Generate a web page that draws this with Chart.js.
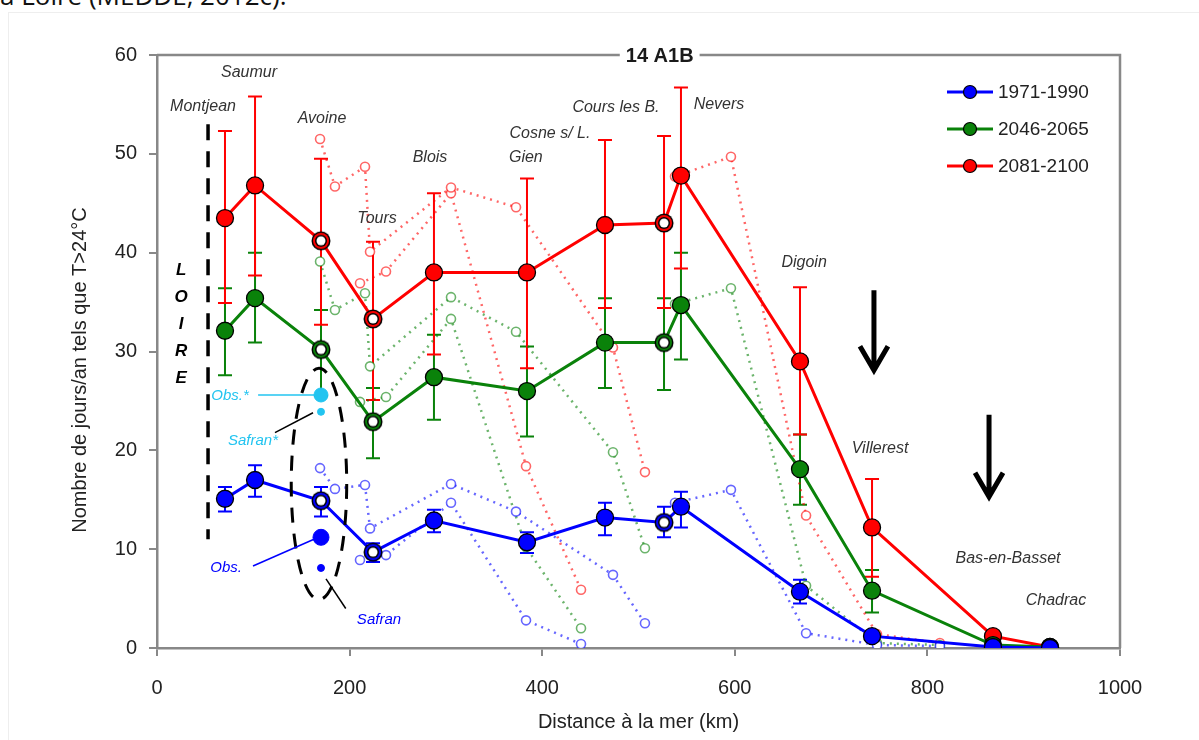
<!DOCTYPE html>
<html>
<head>
<meta charset="utf-8">
<script src="https://cdn.jsdelivr.net/npm/chart.js@4.4.1/dist/chart.umd.min.js"></script>
<style>
  body { margin: 0; background: #fff; }
  #wrap { position: relative; width: 1199px; height: 740px; overflow: hidden; }
  #cut { position: absolute; left: 0px; top: -18px; font: 26px 'Open Sans', sans-serif; color: #111; line-height: 26px; }
  #frame { position: absolute; left: 8px; top: 12px; width: 1190px; height: 730px; border-left: 1px solid #eee; border-top: 1px solid #eee; }
  canvas { position: absolute; left: 0; top: 0; }
</style>
</head>
<body>
<div id="wrap">
  <div id="cut">a Loire (MEDDE, 2012c).</div>
  <div id="frame"></div>
  <canvas id="c" width="1199" height="740"></canvas>
</div>
<script>
// stations le long de la Loire (km depuis la mer)
const stationKm = [70.6, 101.8, 170.3, 224.3, 287.6, 384.2, 465.2, 526.5, 544.1, 667.7, 742.5, 868.1, 927.3];
const openMarker = [false, false, true, true, false, false, false, true, false, false, false, false, false];

const blue = [15.1, 17.0, 14.9, 9.7, 12.9, 10.7, 13.2, 12.7, 14.3, 5.7, 1.2, 0.1, 0.0];
const blueLow = [13.8, 15.3, 13.3, 8.7, 11.7, 9.6, 11.4, 11.2, 12.2, 4.5, 0.7, 0.0, 0.0];
const blueHigh = [16.3, 18.5, 16.3, 10.6, 14.0, 11.7, 14.7, 14.3, 15.8, 6.9, 1.6, 0.2, 0.0];

const green = [32.1, 35.4, 30.2, 22.9, 27.4, 26.0, 30.9, 30.9, 34.7, 18.1, 5.8, 0.3, 0.1];
const greenLow = [27.6, 30.9, 25.5, 19.2, 23.1, 21.4, 26.3, 26.1, 29.2, 14.5, 3.6, 0.1, 0.0];
const greenHigh = [36.4, 40.0, 34.2, 26.3, 31.7, 30.5, 35.4, 35.4, 40.0, 21.6, 7.9, 0.5, 0.2];

const red = [43.5, 46.8, 41.2, 33.3, 38.0, 38.0, 42.8, 43.0, 47.8, 29.0, 12.2, 1.2, 0.1];
const redLow = [34.9, 37.7, 32.7, 25.1, 29.7, 28.3, 34.4, 34.4, 38.4, 21.6, 7.2, 0.8, 0.0];
const redHigh = [52.3, 55.8, 49.5, 41.1, 46.0, 47.5, 51.4, 51.8, 56.7, 36.5, 17.1, 1.6, 0.2];

// affluents / points secondaires (pointillés)
const subKmA = [169.3, 184.8, 216.0, 221.2, 305.3, 372.8, 473.5, 506.7];
const subKmB = [210.8, 237.8, 305.3, 383.2, 440.3];
const subKmC = [537.9, 596.0, 674.0, 747.7, 813.0];
const blueSubA = [18.2, 16.1, 16.5, 12.1, 16.6, 13.8, 7.4, 2.5];
const blueSubB = [8.9, 9.4, 14.7, 2.8, 0.4];
const blueSubC = [14.7, 16.0, 1.5, 0.3, 0.2];
const greenSubA = [39.1, 34.2, 35.9, 28.5, 35.5, 32.0, 19.8, 10.1];
const greenSubB = [24.9, 25.4, 33.3, 10.2, 2.0];
const greenSubC = [34.8, 36.4, 6.3, 0.5, 0.3];
const redSubA = [51.5, 46.7, 48.7, 40.1, 46.6, 44.6, 30.4, 17.8];
const redSubB = [36.9, 38.1, 46.0, 18.4, 5.9];
const redSubC = [47.7, 49.7, 13.4, 1.4, 0.5];

// Obs / Safran à Avoine
const obsKm = 170.3;
const obsStar = 25.6, safranStar = 23.9, obsVal = 11.2, safranVal = 8.1;

const periods = ['1971-1990', '2046-2065', '2081-2100'];
const stationNames = ['Montjean', 'Saumur', 'Avoine', 'Tours', 'Blois', 'Gien', 'Cosne s/ L.', 'Cours les B.', 'Nevers', 'Digoin', 'Villerest', 'Bas-en-Basset', 'Chadrac'];
const labelKm = [47.8, 95.5, 171.3, 228.5, 283.5, 383.0, 408.0, 476.6, 583.6, 672.0, 750.8, 883.7, 933.5];
const labelY = [54.8, 58.2, 53.6, 43.5, 49.6, 49.6, 52.1, 54.7, 55.0, 39.0, 20.2, 9.1, 4.8];

const BLUE = '#0000ff', GREEN = '#0a820a', RED = '#ff0000', CYAN = '#22c4f0';
const FONT = "'Liberation Sans', Arial, sans-serif";

// marqueur "ouvert" : anneau noir, anneau couleur, centre blanc
function ringMarker(color) {
  const c = document.createElement('canvas');
  c.width = 22; c.height = 22;
  const g = c.getContext('2d');
  [[9.5, '#000'], [8, color], [6, '#000'], [4.5, '#fff']].forEach(([r, f]) => {
    g.fillStyle = f;
    g.beginPath(); g.arc(11, 11, r, 0, Math.PI * 2); g.fill();
  });
  return c;
}

function mainSet(label, values, color) {
  const ring = ringMarker(color);
  return {
    label,
    data: stationKm.map((x, i) => ({ x, y: values[i] })),
    borderColor: color,
    borderWidth: 3,
    pointRadius: 8.5,
    pointHoverRadius: 8.5,
    pointStyle: openMarker.map((o) => (o ? ring : 'circle')),
    pointBackgroundColor: color,
    pointBorderColor: '#000',
    pointBorderWidth: 1.3,
    order: 1,
  };
}

function subSet(kms, values, color) {
  return {
    data: kms.map((x, i) => ({ x, y: values[i] })),
    borderColor: color,
    borderDash: [2, 5],
    borderWidth: 2.5,
    pointRadius: 4.5,
    pointBackgroundColor: '#fff',
    pointBorderColor: color,
    pointBorderWidth: 1.6,
    order: 3,
  };
}

function dotSet(y, color, r) {
  return {
    data: [{ x: obsKm, y }],
    showLine: false,
    pointRadius: r,
    pointBackgroundColor: color,
    pointBorderColor: color,
    order: 0,
  };
}

const fadeB = 'rgba(0,0,255,0.6)', fadeG = 'rgba(10,130,10,0.6)', fadeR = 'rgba(255,0,0,0.6)';

const errors = [
  { low: blueLow, high: blueHigh, color: BLUE },
  { low: greenLow, high: greenHigh, color: GREEN },
  { low: redLow, high: redHigh, color: RED },
];

const overlay = {
  id: 'overlay',
  beforeDatasetsDraw(chart) {
    const { ctx, scales: { x, y } } = chart;
    ctx.save();
    ctx.lineWidth = 2;
    errors.forEach((e) => {
      ctx.strokeStyle = e.color;
      stationKm.forEach((km, i) => {
        if (e.high[i] - e.low[i] < 0.3) return;
        const px = x.getPixelForValue(km);
        const y1 = y.getPixelForValue(e.low[i]);
        const y2 = y.getPixelForValue(e.high[i]);
        ctx.beginPath();
        ctx.moveTo(px, y1); ctx.lineTo(px, y2);
        ctx.moveTo(px - 7, y1); ctx.lineTo(px + 7, y1);
        ctx.moveTo(px - 7, y2); ctx.lineTo(px + 7, y2);
        ctx.stroke();
      });
    });
    ctx.restore();
  },
  afterDatasetsDraw(chart) {
    const { ctx, chartArea: a, scales: { x, y } } = chart;
    const X = (v) => x.getPixelForValue(v);
    const Y = (v) => y.getPixelForValue(v);
    ctx.save();

    // cadre haut / droite
    ctx.strokeStyle = '#888';
    ctx.lineWidth = 2.5;
    ctx.beginPath();
    ctx.moveTo(a.left, a.top); ctx.lineTo(a.right, a.top); ctx.lineTo(a.right, a.bottom);
    ctx.stroke();

    // titre
    ctx.font = `bold 20px ${FONT}`;
    ctx.textAlign = 'center';
    ctx.textBaseline = 'middle';
    const tw = ctx.measureText('14 A1B').width;
    const tx = X(522);
    ctx.fillStyle = '#fff';
    ctx.fillRect(tx - tw / 2 - 6, a.top - 12, tw + 12, 24);
    ctx.fillStyle = '#1a1a1a';
    ctx.fillText('14 A1B', tx, a.top + 1);

    // noms des stations
    ctx.font = `italic 16px ${FONT}`;
    ctx.fillStyle = '#333';
    stationNames.forEach((n, i) => ctx.fillText(n, X(labelKm[i]), Y(labelY[i])));

    // ligne pointillée LOIRE
    ctx.strokeStyle = '#000';
    ctx.lineWidth = 3.5;
    ctx.setLineDash([16, 11]);
    ctx.beginPath();
    ctx.moveTo(X(53), Y(53.0)); ctx.lineTo(X(53), Y(11.0));
    ctx.stroke();
    ctx.setLineDash([]);
    ctx.font = `bold italic 17px ${FONT}`;
    ctx.fillStyle = '#000';
    ['L', 'O', 'I', 'R', 'E'].forEach((c, i) => ctx.fillText(c, X(25), Y(38.2 - i * 2.72)));

    // ellipse autour d'Avoine
    ctx.lineWidth = 3;
    ctx.setLineDash([15, 11]);
    ctx.beginPath();
    ctx.ellipse(X(168.2), Y(16.6), X(197) - X(168.2), Y(4.9) - Y(16.6), 0, 0, Math.PI * 2);
    ctx.stroke();
    ctx.setLineDash([]);

    // annotations Obs / Safran
    ctx.font = `italic 15px ${FONT}`;
    ctx.lineWidth = 1.5;
    ctx.fillStyle = CYAN;
    ctx.fillText('Obs.*', X(75.8), Y(25.5));
    ctx.fillText('Safran*', X(99.7), Y(21.0));
    ctx.strokeStyle = CYAN;
    ctx.beginPath(); ctx.moveTo(X(105), Y(25.6)); ctx.lineTo(X(obsKm), Y(obsStar)); ctx.stroke();
    ctx.strokeStyle = '#000';
    ctx.beginPath(); ctx.moveTo(X(122.5), Y(21.8)); ctx.lineTo(X(162), Y(23.8)); ctx.stroke();
    ctx.fillStyle = BLUE;
    ctx.fillText('Obs.', X(71.7), Y(8.1));
    ctx.fillText('Safran', X(230.5), Y(2.8));
    ctx.strokeStyle = BLUE;
    ctx.beginPath(); ctx.moveTo(X(99.7), Y(8.3)); ctx.lineTo(X(163), Y(11.0)); ctx.stroke();
    ctx.strokeStyle = '#000';
    ctx.beginPath(); ctx.moveTo(X(175.5), Y(7.0)); ctx.lineTo(X(196), Y(4.0)); ctx.stroke();

    // flèches
    ctx.strokeStyle = '#000';
    ctx.lineWidth = 5;
    [[744.5, 36.2, 28.1], [864, 23.6, 15.3]].forEach(([km, top, tip]) => {
      const px = X(km), t = Y(tip);
      ctx.beginPath();
      ctx.moveTo(px, Y(top)); ctx.lineTo(px, t - 2);
      ctx.moveTo(px - 14, t - 24); ctx.lineTo(px, t); ctx.lineTo(px + 14, t - 24);
      ctx.stroke();
    });

    // légende
    const colors = [BLUE, GREEN, RED];
    ctx.font = `19px ${FONT}`;
    ctx.textAlign = 'left';
    periods.forEach((p, i) => {
      const ly = 92 + i * 37;
      ctx.strokeStyle = colors[i];
      ctx.lineWidth = 3;
      ctx.beginPath(); ctx.moveTo(947, ly); ctx.lineTo(993, ly); ctx.stroke();
      ctx.fillStyle = colors[i];
      ctx.strokeStyle = '#000';
      ctx.lineWidth = 1.2;
      ctx.beginPath(); ctx.arc(970, ly, 6.5, 0, Math.PI * 2); ctx.fill(); ctx.stroke();
      ctx.fillStyle = '#222';
      ctx.fillText(p, 998, ly + 1);
    });

    // titres des axes
    ctx.textAlign = 'center';
    ctx.font = `20px ${FONT}`;
    ctx.fillStyle = '#222';
    ctx.fillText('Distance à la mer (km)', (a.left + a.right) / 2, 722);
    ctx.translate(80, 370);
    ctx.rotate(-Math.PI / 2);
    ctx.fillText('Nombre de jours/an tels que T>24°C', 0, 0);
    ctx.restore();
  },
};

new Chart(document.getElementById('c'), {
  type: 'line',
  data: {
    datasets: [
      mainSet(periods[0], blue, BLUE),
      mainSet(periods[1], green, GREEN),
      mainSet(periods[2], red, RED),
      subSet(subKmA, blueSubA, fadeB), subSet(subKmB, blueSubB, fadeB), subSet(subKmC, blueSubC, fadeB),
      subSet(subKmA, greenSubA, fadeG), subSet(subKmB, greenSubB, fadeG), subSet(subKmC, greenSubC, fadeG),
      subSet(subKmA, redSubA, fadeR), subSet(subKmB, redSubB, fadeR), subSet(subKmC, redSubC, fadeR),
      dotSet(obsStar, CYAN, 7), dotSet(safranStar, CYAN, 3.5),
      dotSet(obsVal, BLUE, 8), dotSet(safranVal, BLUE, 3.5),
    ],
  },
  options: {
    responsive: false,
    animation: false,
    devicePixelRatio: 1,
    layout: { padding: { top: 55, right: 79, left: 0, bottom: 0 } },
    plugins: { legend: { display: false }, tooltip: { enabled: false } },
    scales: {
      x: {
        type: 'linear', min: 0, max: 1000,
        afterFit: (s) => { s.height = 92; },
        ticks: { stepSize: 200, color: '#222', padding: 20, maxRotation: 0, font: { family: FONT, size: 20 }, callback: (v) => String(v) },
        grid: { drawOnChartArea: false, tickLength: 8, color: '#888', lineWidth: 2 },
        border: { color: '#888', width: 2.5 },
      },
      y: {
        min: 0, max: 60,
        afterFit: (s) => { s.width = 157; },
        ticks: { stepSize: 10, color: '#222', padding: 12, font: { family: FONT, size: 20 } },
        grid: { drawOnChartArea: false, tickLength: 8, color: '#888', lineWidth: 2 },
        border: { color: '#888', width: 2.5 },
      },
    },
  },
  plugins: [overlay],
});
</script>
</body>
</html>
